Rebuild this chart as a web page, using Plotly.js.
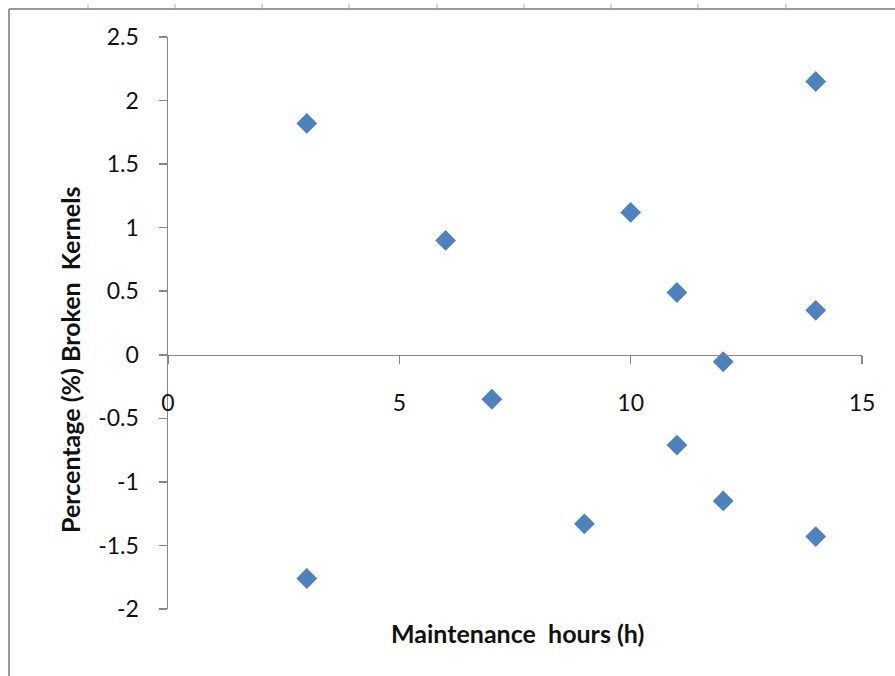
<!DOCTYPE html>
<html>
<head>
<meta charset="utf-8">
<script src="https://cdn.plot.ly/plotly-3.0.1.min.js"></script>
<style>html,body{margin:0;padding:0;background:#fff;}#chart{width:895px;height:676px;}</style>
</head>
<body>
<div id="chart"></div>
<script>
const hours = [3, 3, 6, 7, 9, 10, 11, 11, 12, 12, 14, 14, 14];
const brokenKernels = [1.82, -1.76, 0.90, -0.35, -1.33, 1.12, 0.49, -0.71, -0.055, -1.15, 2.15, 0.35, -1.43];
const xTicks = [0, 5, 10, 15];
const yTicks = [-2, -1.5, -1, -0.5, 0, 0.5, 1, 1.5, 2, 2.5];
const xTitle = 'Maintenance&nbsp;&nbsp;hours (h)';
const yTitle = 'Percentage (%) Broken&nbsp;&nbsp;Kernels';

const font = 'Lato, "Open Sans", "Liberation Sans", sans-serif';
const axisColor = '#878787';

const trace = {
  x: hours, y: brokenKernels, type: 'scatter', mode: 'markers',
  marker: {symbol: 'diamond', size: 16, color: '#4F81BD', line: {width: 0}},
  hoverinfo: 'x+y'
};

function px(x) { return (x - 168) / (895 - 168 - 33); }
function py(y) { return 1 - (y - 37) / (676 - 37 - 67); }

const layout = {
  width: 895, height: 676,
  margin: {l: 168, r: 33, t: 37, b: 67},
  paper_bgcolor: '#ffffff', plot_bgcolor: 'rgba(0,0,0,0)',
  showlegend: false,
  font: {family: font, size: 16, color: '#000'},
  xaxis: {
    range: [0, 15], tickvals: xTicks, ticktext: xTicks.map(String),
    showgrid: false, zeroline: false, showline: true, linecolor: axisColor, linewidth: 1.5,
    ticks: 'outside', ticklen: 8, tickcolor: axisColor, tickwidth: 1.5,
    anchor: 'free', position: 2 / 4.5, ticklabelstandoff: 19,
    tickfont: {family: font, size: 23, color: '#111'}
  },
  yaxis: {
    range: [-2, 2.5], tickvals: yTicks, ticktext: yTicks.map(String),
    showgrid: false, zeroline: false, showline: true, linecolor: axisColor, linewidth: 1.5,
    ticks: 'outside', ticklen: 8, tickcolor: axisColor, tickwidth: 1.5,
    ticklabelstandoff: 15,
    tickfont: {family: font, size: 23, color: '#111'},
    title: {text: ''}
  },
  annotations: [
    {text: xTitle, xref: 'paper', yref: 'paper', x: 0.5, y: py(633), xanchor: 'center', yanchor: 'middle',
     showarrow: false, font: {family: font, size: 25, color: '#111', weight: 'bold'}},
    {text: yTitle, xref: 'paper', yref: 'paper', x: px(70), y: py(360), xanchor: 'center', yanchor: 'middle',
     textangle: -90, showarrow: false, font: {family: font, size: 25, color: '#111', weight: 'bold'}}
  ],
  shapes: [
    {type: 'line', xref: 'paper', yref: 'paper', x0: px(9), x1: px(9), y0: py(9), y1: py(676), line: {color: '#9a9a9a', width: 2}},
    {type: 'line', xref: 'paper', yref: 'paper', x0: px(9), x1: px(895), y0: py(9), y1: py(9), line: {color: '#9a9a9a', width: 2}}
  ]
};
layout.annotations[0].x = px(517);
[88, 175, 262, 349, 437, 524, 611, 698, 786].forEach(function (xp) {
  layout.shapes.push({type: 'line', xref: 'paper', yref: 'paper', x0: px(xp), x1: px(xp), y0: py(4), y1: py(9), line: {color: '#b0b0b0', width: 1}});
});

Plotly.newPlot('chart', [trace], layout, {displayModeBar: false, staticPlot: true});
</script>
</body>
</html>
